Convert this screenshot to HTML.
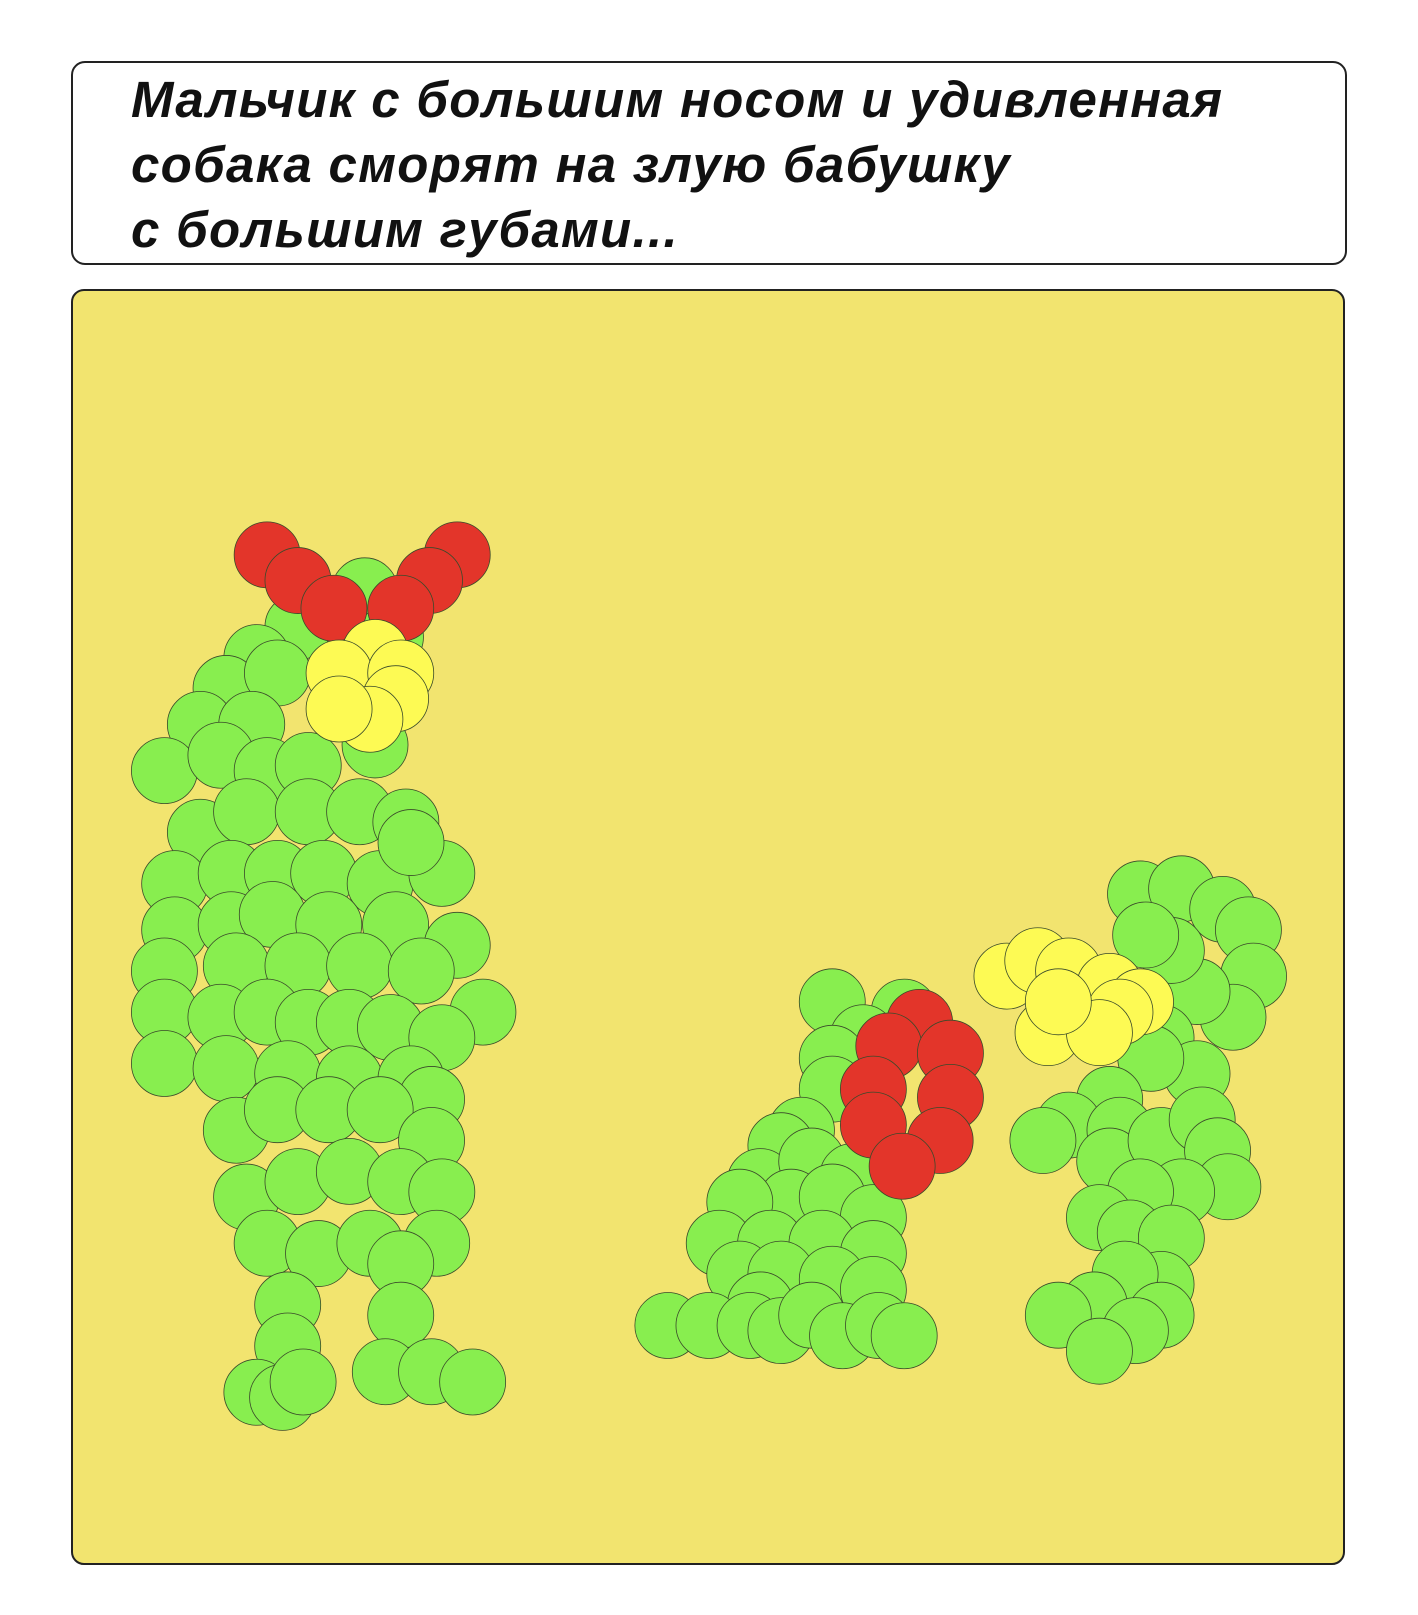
<!DOCTYPE html>
<html><head><meta charset="utf-8">
<style>
html,body{margin:0;padding:0;background:#fff;}
body{width:1418px;height:1615px;position:relative;overflow:hidden;}
#caption{position:absolute;left:71px;top:61px;width:1272px;height:200px;border:2px solid #222;border-radius:14px;background:#fff;}
#caption p{margin:0;position:absolute;left:58px;top:4px;font-family:"Liberation Sans","Noto Sans CJK SC",sans-serif;font-style:italic;font-weight:bold;font-size:51px;line-height:65px;color:#111;letter-spacing:1.3px;}
#scene{position:absolute;left:71px;top:289px;}
</style></head>
<body>
<div id="caption"><p>Мальчик с большим носом и удивленная<br>собака сморят на злую бабушку<br>с большим губами...</p></div>
<svg id="scene" width="1276" height="1278">
<rect x="1" y="1" width="1272" height="1274" rx="12" fill="#f2e46f" stroke="#222" stroke-width="2"/>
<g id="marks"></g>
</svg>
<script>
const boyGreen=[[355,575],[290,610],[250,640],[380,620],[220,670],[270,655],[195,705],[245,705],[160,750],[215,735],[260,750],[300,745],[365,725],[195,810],[240,790],[300,790],[350,790],[395,800],[170,860],[225,850],[270,850],[315,850],[370,860],[430,850],[400,820],[170,905],[225,900],[265,890],[320,900],[385,900],[445,920],[160,945],[230,940],[290,940],[350,940],[410,945],[470,985],[160,985],[215,990],[260,985],[300,995],[340,995],[380,1000],[430,1010],[160,1035],[220,1040],[280,1045],[340,1050],[400,1050],[420,1070],[230,1100],[270,1080],[320,1080],[370,1080],[420,1110],[240,1165],[290,1150],[340,1140],[390,1150],[430,1160],[260,1210],[310,1220],[360,1210],[425,1210],[390,1230],[280,1270],[390,1280],[280,1310],[250,1355],[275,1360],[295,1345],[375,1335],[420,1335],[460,1345]];
const boyRed=[[260,540],[290,565],[325,592],[445,540],[418,565],[390,592]];
const boyYellow=[[365,635],[330,655],[390,655],[385,680],[360,700],[330,690]];
const catGreen=[[810,975],[880,985],[840,1010],[810,1030],[810,1060],[780,1100],[760,1115],[740,1150],[790,1130],[830,1145],[770,1170],[810,1165],[720,1170],[850,1185],[700,1210],[750,1210],[800,1210],[850,1220],[720,1240],[760,1240],[810,1245],[850,1255],[740,1270],[650,1290],[690,1290],[730,1290],[760,1295],[790,1280],[820,1300],[855,1290],[880,1300]];
const catRed=[[895,995],[865,1018],[925,1025],[850,1060],[925,1068],[850,1095],[915,1110],[878,1135]];
const dogGreen=[[1110,870],[1150,865],[1190,885],[1215,905],[1220,950],[1200,990],[1165,965],[1140,925],[1115,910],[1130,1010],[1165,1045],[1120,1030],[1080,1070],[1040,1095],[1015,1110],[1090,1100],[1080,1130],[1130,1110],[1170,1090],[1185,1120],[1195,1155],[1150,1160],[1110,1160],[1070,1185],[1100,1200],[1140,1205],[1130,1250],[1095,1240],[1065,1270],[1030,1280],[1130,1280],[1105,1295],[1070,1315]];
const dogYellow=[[980,950],[1010,935],[1040,945],[1080,960],[1110,975],[1090,985],[1020,1005],[1070,1005],[1030,975]];
const layers=[[boyGreen,'#88ee4f','boy-body'],[boyRed,'#e3352a','boy-hair'],[boyYellow,'#fdfa54','boy-nose'],[catGreen,'#88ee4f','dog-body'],[catRed,'#e3352a','dog-collar'],[dogGreen,'#88ee4f','grandma-body'],[dogYellow,'#fdfa54','grandma-lips']];
const k=1.0275,ox=71,oy=289,R=33;
const sx=v=>v*k-ox, sy=v=>v*k-oy;
const g=document.getElementById('marks');
layers.forEach(([pts,col,nm])=>{
  pts.forEach(p=>{
    const c=document.createElementNS('http://www.w3.org/2000/svg','circle');
    c.setAttribute('cx',sx(p[0]));c.setAttribute('cy',sy(p[1]));c.setAttribute('r',R);
    c.setAttribute('fill',col);c.setAttribute('stroke','#3a4a2a');c.setAttribute('stroke-width','0.8');
    
    
    g.appendChild(c);
  });
});
</script>
</body></html>
